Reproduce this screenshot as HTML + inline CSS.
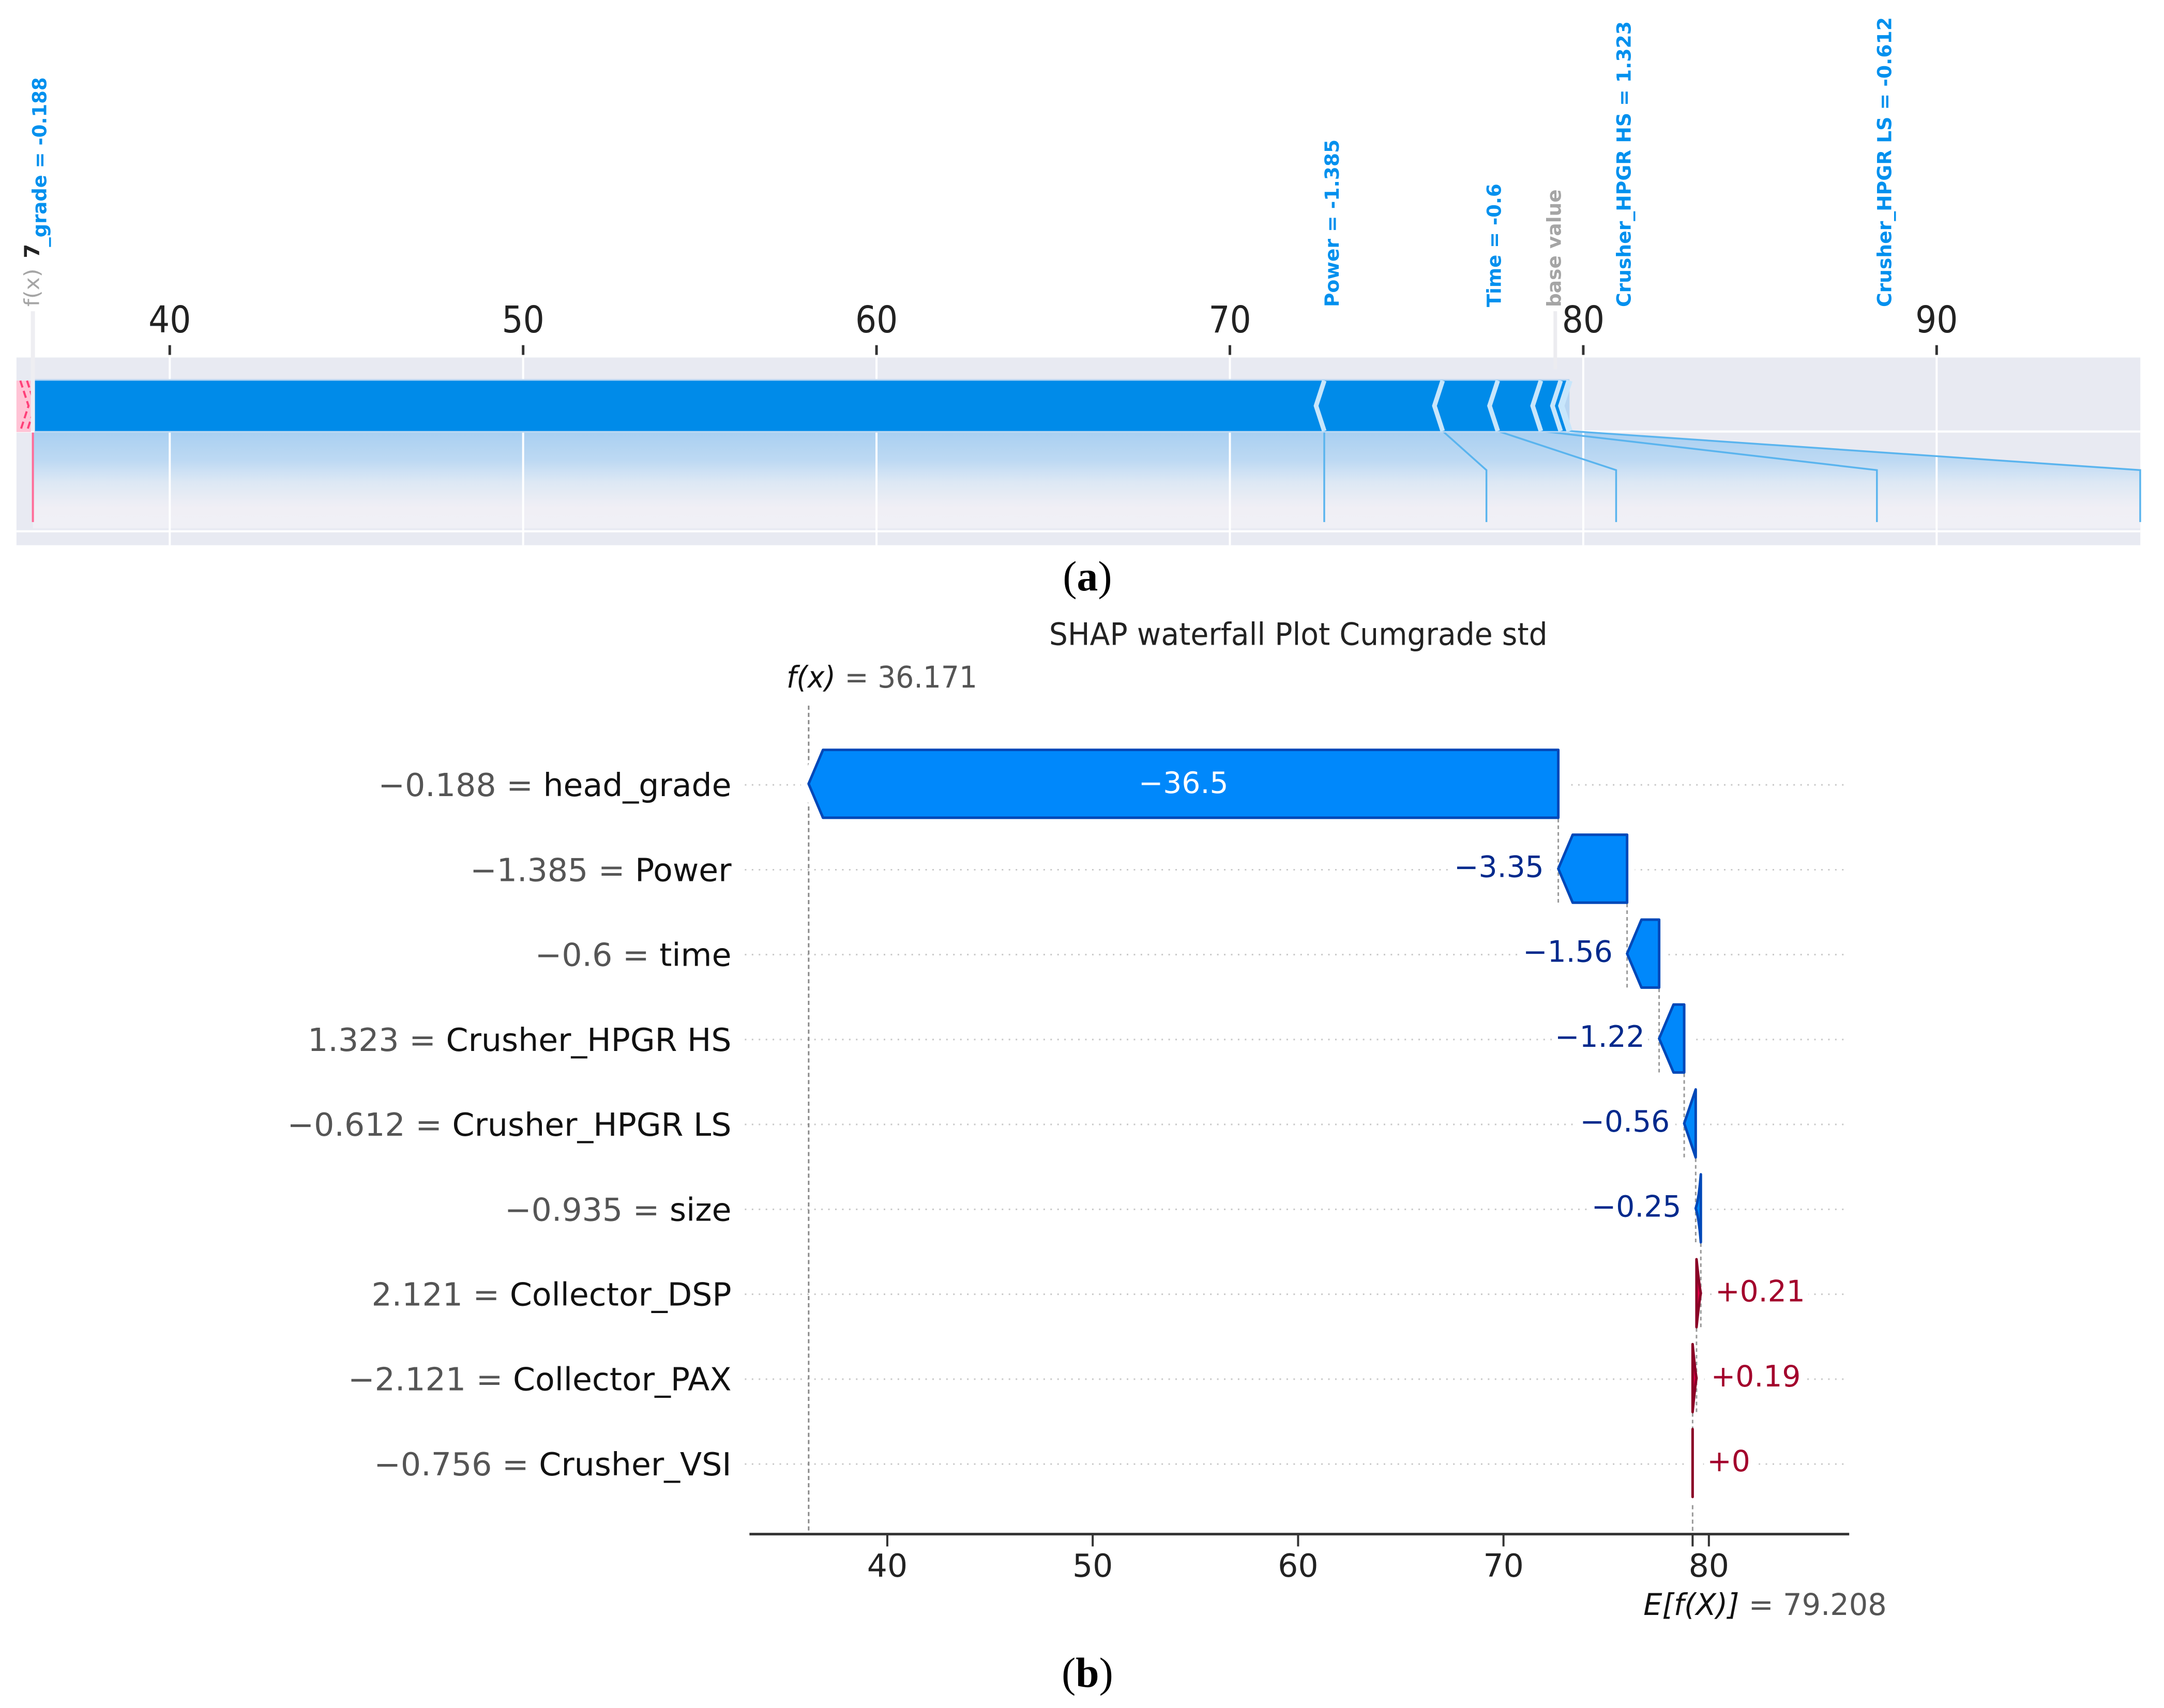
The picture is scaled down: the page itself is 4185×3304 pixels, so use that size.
<!DOCTYPE html>
<html lang="en">
<head>
<meta charset="utf-8">
<title>SHAP force and waterfall plots</title>
<style>
html,body{margin:0;padding:0;background:#fff;width:4185px;height:3304px;overflow:hidden}
svg{display:block;font-family:"DejaVu Sans","Liberation Sans",sans-serif}
</style>
</head>
<body>
<svg id="chart" xmlns="http://www.w3.org/2000/svg" width="4185" height="3304" viewBox="0 0 4207 3321">
  <defs>
    <linearGradient id="forceFade" x1="0" y1="0" x2="0" y2="1">
      <stop offset="0" stop-color="#a8cff1"/>
      <stop offset="0.3" stop-color="#bdd9f3"/>
      <stop offset="0.53" stop-color="#dde8f4"/>
      <stop offset="0.79" stop-color="#f0eff5"/>
      <stop offset="1" stop-color="#f0f0f6"/>
    </linearGradient>
    <clipPath id="pinkClip"><rect x="32" y="736" width="28" height="106"/></clipPath>
  </defs>
  <rect x="0" y="0" width="4207" height="3321" fill="#fff"/>
  <g id="force"></g>
  <text x="2114" y="1148" text-anchor="middle" font-family="'Liberation Serif',serif" font-size="82" fill="#000">(<tspan font-weight="bold">a</tspan>)</text>
  <text x="2524" y="1254" text-anchor="middle" font-size="60" fill="#222" textLength="969" lengthAdjust="spacingAndGlyphs">SHAP waterfall Plot Cumgrade std</text>
  <g id="waterfall"></g>
  <text x="1529" y="1337" font-size="58" fill="#555" textLength="371" lengthAdjust="spacingAndGlyphs"><tspan font-style="italic" fill="#111">f(x)</tspan> = 36.171</text>
  <text x="3195" y="3140" font-size="58" fill="#555" textLength="473" lengthAdjust="spacingAndGlyphs"><tspan font-style="italic" fill="#111">E[f(X)]</tspan>  = 79.208</text>
  <text x="2114" y="3280" text-anchor="middle" font-family="'Liberation Serif',serif" font-size="82" fill="#000">(<tspan font-weight="bold">b</tspan>)</text>
</svg>
<script>
// ---- data ----
const featureNames = ['head_grade','Power','time','Crusher_HPGR HS','Crusher_HPGR LS','size','Collector_DSP','Collector_PAX','Crusher_VSI'];
const featureValues = ['\u22120.188','\u22121.385','\u22120.6','1.323','\u22120.612','\u22120.935','2.121','\u22122.121','\u22120.756'];
const shapEffects = [-36.5,-3.35,-1.56,-1.22,-0.56,-0.25,0.21,0.19,0];
const effectLabels = ['\u221236.5','\u22123.35','\u22121.56','\u22121.22','\u22120.56','\u22120.25','+0.21','+0.19','+0'];
const baseValue = 79.208;
const outputValue = 36.171;
const waterfallTicks = [40,50,60,70,80];
const forceTicks = [40,50,60,70,80,90];
const forceLabelNames = ['Power = -1.385','Time = -0.6','Crusher_HPGR HS = 1.323','Crusher_HPGR LS = -0.612'];
const forceLabelAnchors = [72.67,77.26,80.93,88.31,95.76];

const NS = 'http://www.w3.org/2000/svg';
function make(parent, tag, props, txt){
  const el = document.createElementNS(NS, tag);
  for (const k in props) el.setAttribute(k, props[k]);
  if (txt !== undefined) el.textContent = txt;
  parent.appendChild(el);
  return el;
}
function slug(s){ return s.toLowerCase().replace(/[^a-z0-9]+/g,'-'); }

// ---- axis functions ----
const xForce = v => 330 + 68.7 * (v - 40);
const xFall = v => 1725 + 39.93 * (v - 40);
const yRow = i => 1526 + 165.1 * i;

// ---- force plot ----
(function(){
  const g = document.getElementById('force');
  const T0 = 695, T1 = 1060, B0 = 740, B1 = 838, KNEE = 914, END = 1015, LEFT = 32, RIGHT = 4161;
  let el;
  el = make(g,'rect',{x:LEFT,y:T0,width:RIGHT-LEFT,height:T1-T0,fill:'#e8eaf2'});
  
  

  // cumulative edges of the negative effects, starting at f(x)
  const negEdges = [];
  let c = outputValue;
  shapEffects.forEach(e => { if (e < 0) { c -= e; negEdges.push(c); } });
  const barEnd = c;

  const anchorEnd = forceLabelAnchors[forceLabelAnchors.length-1];
  const fxX = xForce(outputValue);
  const fadePts = [[fxX-3,B1],[xForce(barEnd),B1],[xForce(anchorEnd),KNEE],[xForce(anchorEnd),END+12],[fxX-3,END+12]];
  el = make(g,'polygon',{points:fadePts.map(p=>p.join(',')).join(' '),fill:'url(#forceFade)'});
  
  

  // grid + ticks
  forceTicks.forEach(t => {
    const x = xForce(t);
    let e = make(g,'line',{x1:x,x2:x,y1:T0,y2:T1,stroke:'#fff','stroke-width':4});
    
    
    e = make(g,'line',{x1:x,x2:x,y1:671,y2:690,stroke:'#333','stroke-width':5});
    
    
    e = make(g,'text',{transform:'translate('+x+',646) scale(1,1.1)','text-anchor':'middle','font-size':65,fill:'#222'},String(t));
    
    
  });
  [B1+1,1033].forEach((y,i) => {
    const e = make(g,'line',{x1:LEFT,x2:RIGHT,y1:y,y2:y,stroke:'#fff','stroke-width':4});
    
    
  });

  // positive (pink) segment, clipped at the plot's left edge
  const MID = (B0+B1)/2, D = 16;
  el = make(g,'rect',{x:LEFT,y:B0,width:28,height:B1-B0+2,fill:'#ffc3d5'});
  
  
  let p = outputValue;
  shapEffects.filter(e => e > 0).forEach((e,i) => {
    p -= e;
    const x = xForce(p);
    const s = make(g,'polyline',{points:x+','+B0+' '+(x+D)+','+MID+' '+x+','+B1,fill:'none',stroke:'#ff3f78','stroke-width':4,'stroke-dasharray':'14 7','clip-path':'url(#pinkClip)'});
    
    
  });

  // connectors
  forceLabelAnchors.slice(0,4).forEach((a,i) => {
    const x0 = xForce(negEdges[i]), x1 = xForce(a);
    const l = make(g,'polyline',{points:x0+','+B1+' '+x1+','+KNEE+' '+x1+','+END,fill:'none',stroke:'#5ab4ee','stroke-width':3.5});
    
    
  });
  const lastX = xForce(anchorEnd);
  el = make(g,'polyline',{points:xForce(barEnd)+','+B1+' '+lastX+','+KNEE+' '+lastX+','+END,fill:'none',stroke:'#5ab4ee','stroke-width':3.5});
  
  
  el = make(g,'line',{x1:fxX-3,x2:fxX-3,y1:B1+3,y2:END,stroke:'#ff6c98','stroke-width':4});
  
  

  // negative bar
  const endX = xForce(barEnd);
  el = make(g,'rect',{x:fxX,y:B0-3,width:endX-fxX,height:B1-B0+6,fill:'#b8d6f2'});
  
  
  el = make(g,'polygon',{points:fxX+','+B0+' '+endX+','+B0+' '+(endX-D)+','+MID+' '+endX+','+B1+' '+fxX+','+B1,fill:'#008be9'});
  
  
  negEdges.forEach((v,i) => {
    const x = xForce(v);
    const last = i === negEdges.length - 1;
    const s = make(g,'polyline',{points:x+','+B0+' '+(x-D)+','+MID+' '+x+','+B1,fill:'none',stroke:'#c8e6fb','stroke-width':last?12:9});
    
    
  });

  // guide lines for f(x) and base value
  el = make(g,'line',{x1:fxX-3,x2:fxX-3,y1:605,y2:B1,stroke:'#eeeef2','stroke-width':8});
  
  
  const bx = xForce(baseValue);
  el = make(g,'line',{x1:bx,x2:bx,y1:605,y2:718,stroke:'#ececf0','stroke-width':7});
  
  

  // rotated labels
  const BASE = 597, FS = 38;
  const lengths = [326,240,556,564];
  forceLabelNames.forEach((name,i) => {
    const x = xForce(forceLabelAnchors[i]) + 28;
    const t = make(g,'text',{transform:'translate('+x+','+BASE+') rotate(-90)','font-size':FS,'font-weight':'bold',fill:'#0090ee',textLength:lengths[i],lengthAdjust:'spacingAndGlyphs'},name);
    
    
  });
  el = make(g,'text',{transform:'translate('+(bx+11)+','+BASE+') rotate(-90)','font-size':FS,'font-weight':'bold',fill:'#a5a5a5',textLength:229,lengthAdjust:'spacingAndGlyphs'},'base value');
  
  
  el = make(g,'text',{transform:'translate(76,596) rotate(-90)','font-size':40,fill:'#a5a5a5',textLength:74,lengthAdjust:'spacingAndGlyphs'},'f(x)');
  
  
  el = make(g,'text',{transform:'translate(76,502) rotate(-90)','font-size':40,'font-weight':'bold',fill:'#222'},'7');
  
  
  el = make(g,'text',{transform:'translate(90,480) rotate(-90)','font-size':FS,'font-weight':'bold',fill:'#0090ee',textLength:330,lengthAdjust:'spacingAndGlyphs'},'_grade = -0.188');
  
  
})();

// ---- waterfall plot ----
(function(){
  const g = document.getElementById('waterfall');
  const AX = 2983, H = 66, GL = 1448, GR = 3590, HEAD = 28;
  let el;

  // bar extents: walk the chain upward from the base value
  const lefts = [], rights = [];
  let chain = baseValue;
  for (let i = shapEffects.length - 1; i >= 0; i--) {
    const e = shapEffects[i];
    if (e >= 0) { lefts[i] = chain; rights[i] = chain + e; chain += e; }
  }
  for (let i = shapEffects.length - 1; i >= 0; i--) {
    const e = shapEffects[i];
    if (e < 0) { rights[i] = chain; lefts[i] = chain + e; chain += e; }
  }

  // dotted row guides
  featureNames.forEach((n,i) => {
    const y = yRow(i);
    const l = make(g,'line',{x1:GL,x2:GR,y1:y,y2:y,stroke:'#c8c8c8','stroke-width':3,'stroke-dasharray':'3 10.5'});
    
    
  });

  // f(x) and base reference lines
  el = make(g,'line',{x1:xFall(outputValue),x2:xFall(outputValue),y1:1372,y2:AX,stroke:'#888','stroke-width':3,'stroke-dasharray':'8 6'});
  
  
  el = make(g,'line',{x1:xFall(baseValue),x2:xFall(baseValue),y1:yRow(8)+H,y2:AX,stroke:'#999','stroke-width':3,'stroke-dasharray':'8 6'});
  
  

  // bars
  featureNames.forEach((n,i) => {
    const e = shapEffects[i], y = yRow(i) - 2;
    const xl = xFall(lefts[i]), xr = xFall(rights[i]);
    const w = xr - xl;
    let d;
    if (w < 15) {
      // very short arrows collapse to crescents
      if (e < 0) d = 'M'+xr+','+(y-H)+' L'+xr+','+(y+H)+' Q'+(xr-w*0.4)+','+(y+H*0.25)+' '+xl+','+y+' Q'+(xr-w*0.4)+','+(y-H*0.25)+' '+xr+','+(y-H)+'Z';
      else d = 'M'+xl+','+(y-H)+' L'+xl+','+(y+H)+' Q'+(xl+w*0.6)+','+(y+H*0.25)+' '+xr+','+y+' Q'+(xl+w*0.6)+','+(y-H*0.25)+' '+xl+','+(y-H)+'Z';
    } else {
      const h = Math.min(HEAD, w);
      d = 'M'+(xl+h)+','+(y-H)+' L'+xr+','+(y-H)+' L'+xr+','+(y+H)+' L'+(xl+h)+','+(y+H)+' L'+xl+','+y+'Z';
    }
    const halo = make(g,'path',{d:d,fill:'#fff',stroke:'#fff','stroke-width':30,'stroke-linejoin':'round'});
    
    
  });

  // step connectors
  for (let i = 0; i < shapEffects.length - 1; i++) {
    const v = shapEffects[i] < 0 ? rights[i] : lefts[i];
    const x = xFall(shapEffects[i] < 0 ? lefts[i+1] < v && shapEffects[i+1] < 0 ? rights[i+1] : v : v);
    const s = make(g,'line',{x1:x,x2:x,y1:yRow(i)+H,y2:yRow(i+1)+H-2,stroke:'#999','stroke-width':3,'stroke-dasharray':'7 6'});
    
    
  }

  featureNames.forEach((n,i) => {
    const e = shapEffects[i], y = yRow(i) - 2;
    const xl = xFall(lefts[i]), xr = xFall(rights[i]);
    const w = xr - xl;
    let d;
    if (w < 15) {
      if (e < 0) d = 'M'+xr+','+(y-H)+' L'+xr+','+(y+H)+' Q'+(xr-w*0.4)+','+(y+H*0.25)+' '+xl+','+y+' Q'+(xr-w*0.4)+','+(y-H*0.25)+' '+xr+','+(y-H)+'Z';
      else d = 'M'+xl+','+(y-H)+' L'+xl+','+(y+H)+' Q'+(xl+w*0.6)+','+(y+H*0.25)+' '+xr+','+y+' Q'+(xl+w*0.6)+','+(y-H*0.25)+' '+xl+','+(y-H)+'Z';
    } else {
      const h = Math.min(HEAD, w);
      d = 'M'+(xl+h)+','+(y-H)+' L'+xr+','+(y-H)+' L'+xr+','+(y+H)+' L'+(xl+h)+','+(y+H)+' L'+xl+','+y+'Z';
    }
    const bar = make(g,'path',{d:d,fill:e<0?'#0088fb':'#e8004a',stroke:e<0?'#0048b8':'#8a0026','stroke-width':5,'stroke-linejoin':'round'});
    
    
  });

  // labels
  featureNames.forEach((n,i) => {
    const y = yRow(i), e = shapEffects[i];
    const t = make(g,'text',{x:1422,y:y+22,'text-anchor':'end','font-size':62,fill:'#111',stroke:'#fff','stroke-width':26,'paint-order':'stroke'});
    const v = make(t,'tspan',{fill:'#555'},featureValues[i]+' = ');
    const nm = make(t,'tspan',{},n);
    
    
    
    
    
    

    let lab;
    if (i === 0) {
      const cx = (xFall(lefts[i]) + xFall(rights[i])) / 2;
      lab = make(g,'text',{x:cx,y:y+16,'text-anchor':'middle','font-size':57,fill:'#fff'},effectLabels[i]);
    } else if (e < 0) {
      lab = make(g,'text',{x:xFall(lefts[i])-28,y:y+14,'text-anchor':'end','font-size':57,fill:'#00298c',stroke:'#fff','stroke-width':24,'paint-order':'stroke'},effectLabels[i]);
    } else {
      lab = make(g,'text',{x:xFall(rights[i])+28,y:y+14,'text-anchor':'start','font-size':57,fill:'#a3002c',stroke:'#fff','stroke-width':24,'paint-order':'stroke'},effectLabels[i]);
    }
    
    
  });

  // x axis
  el = make(g,'line',{x1:1457,x2:3595,y1:AX,y2:AX,stroke:'#333','stroke-width':5});
  
  
  waterfallTicks.forEach(t => {
    const x = xFall(t);
    let e = make(g,'line',{x1:x,x2:x,y1:AX,y2:AX+24,stroke:'#333','stroke-width':4});
    
    
    e = make(g,'text',{x:x,y:3066,'text-anchor':'middle','font-size':62,fill:'#222'},String(t));
    
    
  });
  el = make(g,'line',{x1:xFall(baseValue),x2:xFall(baseValue),y1:AX,y2:AX+24,stroke:'#333','stroke-width':4});
  
  
})();
</script>
</body>
</html>
